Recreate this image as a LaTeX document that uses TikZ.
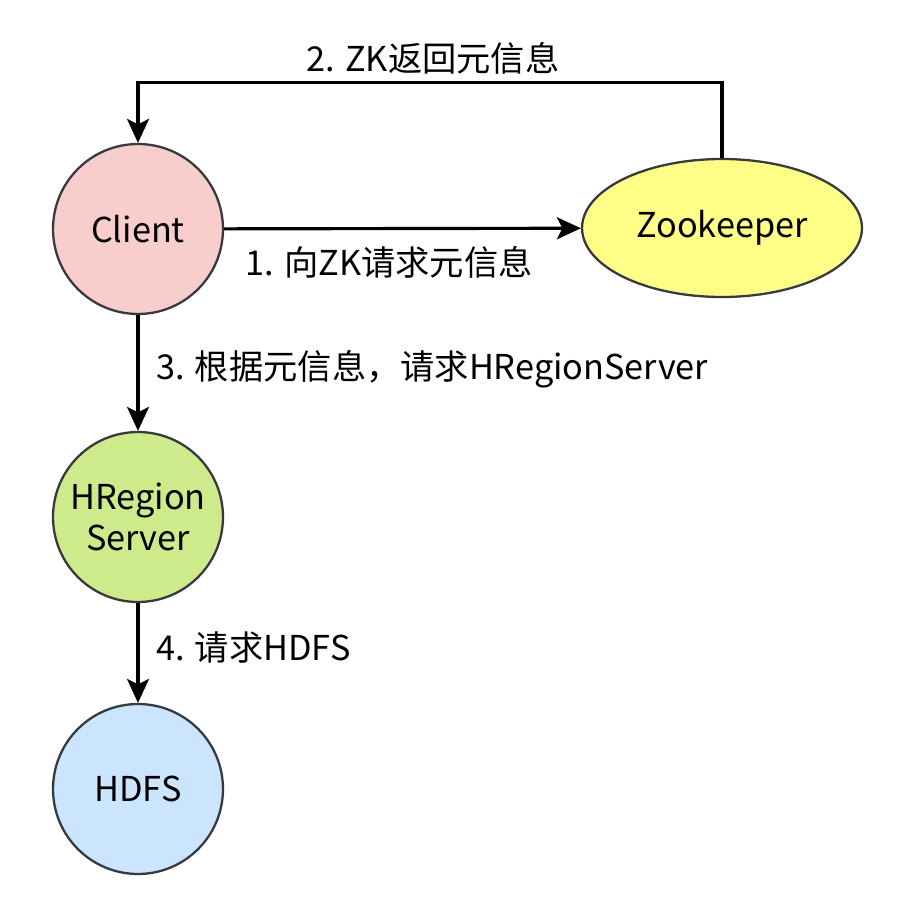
\documentclass[tikz,border=0pt]{standalone}
\usepackage{fontspec}
\setmainfont{Noto Sans CJK SC}
\usetikzlibrary{arrows.meta,shapes.geometric}
\definecolor{clientred}{HTML}{F8CECC}
\definecolor{zkyellow}{HTML}{FFFF88}
\definecolor{rsgreen}{HTML}{CDEB8B}
\definecolor{hdfsblue}{HTML}{CCE5FF}
\definecolor{rimgray}{HTML}{36393D}
\begin{document}
\begin{tikzpicture}[x=0.02cm, y=-0.02cm,
  every node/.style={font=\fontsize{19.5}{23}\selectfont},
  ball/.style={circle, draw=rimgray, line width=1.3pt, minimum size=3.4cm, inner sep=0pt, align=center},
  flow/.style={-{Stealth[length=0.48cm,width=0.44cm,inset=0.11cm]}, line width=1.8pt},
  tag/.style={font=\fontsize{19.5}{23}\selectfont}]
  \useasboundingbox (0,0) rectangle (909,912);
  % the four parties
  \node[ball, fill=clientred] (client) at (138,229) {Client};
  \node[ellipse, draw=rimgray, line width=1.3pt, fill=zkyellow, minimum width=5.6cm, minimum height=2.76cm, inner sep=0pt] (zk) at (722,228) {Zookeeper};
  \node[ball, fill=rsgreen] (rs) at (138,517) {HRegion\\Server};
  \node[ball, fill=hdfsblue] (hdfs) at (138,789) {HDFS};
  % requests
  \draw[flow] (client) -- (zk);
  \draw[flow] (zk.north) -- ++(0,-75) -| (client.north);
  \draw[flow] (client) -- (rs);
  \draw[flow] (rs) -- (hdfs);
  \node[tag] (t1) at (389,262) {1. 向ZK请求元信息};
  \node[tag] (t2) at (433,58) {2. ZK返回元信息};
  \node[tag, anchor=west] (t3) at (150,369) {3. 根据元信息，请求HRegionServer};
  \node[tag, anchor=west] (t4) at (150,648) {4. 请求HDFS};
\end{tikzpicture}
\end{document}
